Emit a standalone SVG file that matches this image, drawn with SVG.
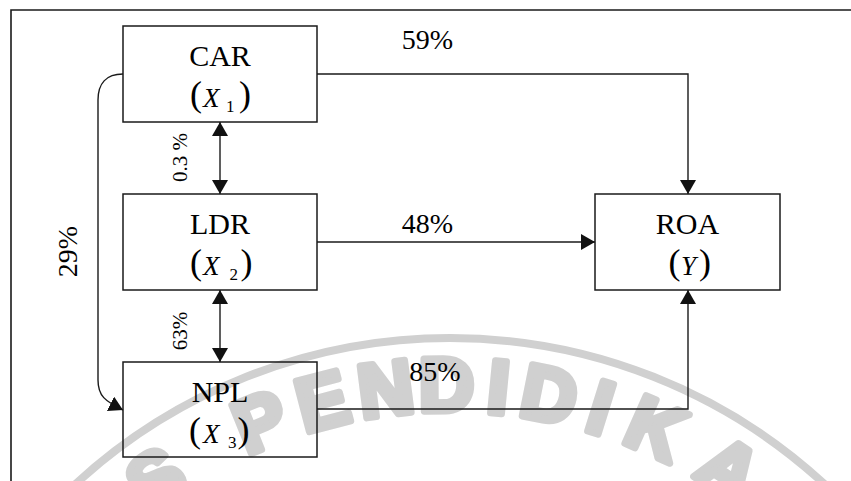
<svg xmlns="http://www.w3.org/2000/svg" width="851" height="481" viewBox="0 0 851 481">
<defs>
<marker id="ah" viewBox="0 0 14 16" refX="14" refY="8" markerWidth="14" markerHeight="16" markerUnits="userSpaceOnUse" orient="auto-start-reverse">
<path d="M0,0 L14,8 L0,16 Z" fill="#111"/>
</marker>
<style>
.bg{fill:#fff}
.wm{font-family:"Liberation Sans",Arial,sans-serif;font-weight:bold;font-size:76px;fill:#d0d0d0;stroke:#d0d0d0;stroke-width:7;stroke-linejoin:round;text-anchor:middle}
.band{fill:none;stroke:#d0d0d0;stroke-width:8}
.box{fill:none;stroke:#1a1a1a;stroke-width:1.5}
.con{fill:none;stroke:#1a1a1a;stroke-width:1.4}
.lbl{font-family:"Liberation Serif","Times New Roman",serif;font-size:30px;fill:#000;text-anchor:middle}
.par{font-family:"Liberation Serif","Times New Roman",serif;font-size:36px;fill:#000}
.var{font-family:"Liberation Serif","Times New Roman",serif;font-style:italic;font-size:27px;fill:#000}
.sub{font-family:"Liberation Serif","Times New Roman",serif;font-size:17px;fill:#000}
.pct{font-family:"Liberation Serif","Times New Roman",serif;font-size:28px;fill:#000;text-anchor:middle}
.rot{font-family:"Liberation Serif","Times New Roman",serif;font-size:21px;fill:#000;text-anchor:middle}
</style>
</defs>
<rect class="bg" x="0" y="0" width="851" height="481"/>
<g id="watermark">
<circle class="band" cx="450" cy="891" r="553"/>
<text class="wm" x="450" y="411" transform="rotate(-35.5 450 891)">S</text>
<text class="wm" x="450" y="411" transform="rotate(-22 450 891)">P</text>
<text class="wm" x="450" y="411" transform="rotate(-14.6 450 891)">E</text>
<text class="wm" x="450" y="411" transform="rotate(-7.3 450 891)">N</text>
<text class="wm" x="450" y="411" transform="rotate(-0.4 450 891)">D</text>
<text class="wm" x="450" y="411" transform="rotate(5.5 450 891)">I</text>
<text class="wm" x="450" y="411" transform="rotate(11.3 450 891)">D</text>
<text class="wm" x="450" y="411" transform="rotate(17.3 450 891)">I</text>
<text class="wm" x="450" y="411" transform="rotate(24 450 891)">K</text>
<text class="wm" x="450" y="411" transform="rotate(33.5 450 891)">A</text>
<text class="wm" x="450" y="411" transform="rotate(44.5 450 891)">N</text>
</g>
<path id="frame" d="M11,481 V10 H851" fill="none" stroke="#1a1a1a" stroke-width="1.6"/>
<g id="connectors">
<path class="con" d="M317,74 H688 V194" marker-end="url(#ah)"/>
<path class="con" d="M317,242 H595" marker-end="url(#ah)"/>
<path class="con" d="M317,409 H688 V290" marker-end="url(#ah)"/>
<path class="con" d="M220,122 V194" marker-start="url(#ah)" marker-end="url(#ah)"/>
<path class="con" d="M220,290 V362" marker-start="url(#ah)" marker-end="url(#ah)"/>
<path class="con" d="M123,74 C106,74 98,84 98,100 V380 C98,396 105,401 123,410" marker-end="url(#ah)"/>
<text class="pct" x="427.5" y="48.5">59%</text>
<text class="pct" x="427.5" y="233">48%</text>
<text class="pct" x="435" y="381">85%</text>
<text class="rot" transform="translate(187 157.5) rotate(-90)">0.3 %</text>
<text class="rot" transform="translate(187 331) rotate(-90)">63%</text>
<text class="pct" font-size="30" transform="translate(77 251.5) rotate(-90)">29%</text>
</g>
<g id="car">
<rect class="box" x="123" y="26" width="194" height="96"/>
<text class="lbl" x="220" y="66">CAR</text>
<text class="par" x="190" y="105.6">(</text>
<text class="var" x="203" y="107.3">X</text>
<text class="sub" x="226" y="111.7">1</text>
<text class="par" x="239" y="105.6">)</text>
</g>
<g id="ldr">
<rect class="box" x="123" y="194" width="194" height="96"/>
<text class="lbl" x="220" y="234">LDR</text>
<text class="par" x="190" y="273.6">(</text>
<text class="var" x="203" y="275.3">X</text>
<text class="sub" x="229.5" y="279.7">2</text>
<text class="par" x="240.5" y="273.6">)</text>
</g>
<g id="npl">
<rect class="box" x="123" y="362" width="194" height="95"/>
<text class="lbl" x="220" y="402">NPL</text>
<text class="par" x="189" y="441.6">(</text>
<text class="var" x="203" y="443.3">X</text>
<text class="sub" x="228" y="447.7">3</text>
<text class="par" x="237.5" y="441.6">)</text>
</g>
<g id="roa">
<rect class="box" x="595" y="194" width="185" height="96"/>
<text class="lbl" x="687.5" y="234">ROA</text>
<text class="par" x="668.5" y="273.6">(</text>
<text class="var" x="681" y="275.3">Y</text>
<text class="par" x="699" y="273.6">)</text>
</g>
</svg>
